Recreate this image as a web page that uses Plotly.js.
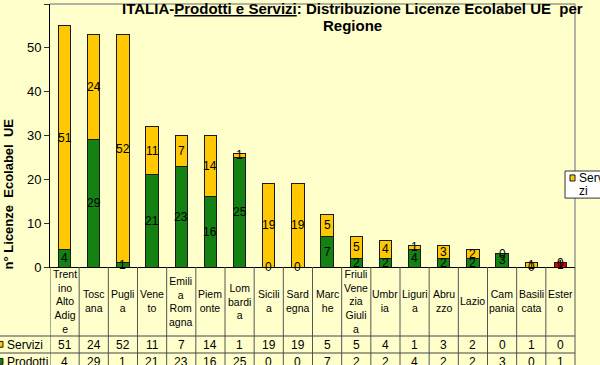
<!DOCTYPE html>
<html>
<head>
<meta charset="utf-8">
<script src="https://cdn.plot.ly/plotly-3.0.1.min.js"></script>
<style>
  html, body { margin: 0; padding: 0; background: #FFFFCC; }
  #chart { width: 600px; height: 365px; }
</style>
</head>
<body>
<div id="chart"></div>
<script>
const regioni = ['Trentino Alto Adige', 'Toscana', 'Puglia', 'Veneto', 'Emilia Romagna', 'Piemonte',
  'Lombardia', 'Sicilia', 'Sardegna', 'Marche', 'Friuli Venezia Giulia', 'Umbria', 'Liguria',
  'Abruzzo', 'Lazio', 'Campania', 'Basilicata', 'Estero'];
// how the names wrap inside the narrow table columns
const etichette = ['Trent<br>ino<br>Alto<br>Adig<br>e', 'Tosc<br>ana', 'Pugli<br>a', 'Vene<br>to',
  'Emili<br>a<br>Rom<br>agna', 'Piem<br>onte', 'Lom<br>bardi<br>a', 'Sicili<br>a', 'Sard<br>egna',
  'Marc<br>he', 'Friuli<br>Vene<br>zia<br>Giuli<br>a', 'Umbr<br>ia', 'Liguri<br>a', 'Abru<br>zzo',
  'Lazio', 'Cam<br>pania', 'Basili<br>cata', 'Ester<br>o'];
const servizi = [51, 24, 52, 11, 7, 14, 1, 19, 19, 5, 5, 4, 1, 3, 2, 0, 1, 0];
const prodotti = [4, 29, 1, 21, 23, 16, 25, 0, 0, 7, 2, 2, 4, 2, 2, 3, 0, 1];

const FONT = 'Arial, "Liberation Sans", sans-serif';
const GIALLO = '#FFC800';
const VERDE = '#138213';
const ROSSO = '#E00000';
const BORDO = '#1a1a1a';

const x = regioni.map((r, i) => i);
const coloriProdotti = regioni.map(r => r === 'Estero' ? ROSSO : VERDE);

const traceProdotti = {
  type: 'bar', name: 'Prodotti', x: x, y: prodotti, width: 0.42,
  marker: {color: coloriProdotti, line: {color: BORDO, width: 1}},
  hovertext: regioni, showlegend: false
};
const traceServizi = {
  type: 'bar', name: 'Servizi', x: x, y: servizi, width: 0.42,
  marker: {color: GIALLO, line: {color: BORDO, width: 1}},
  hovertext: regioni, showlegend: false
};

const annotations = [];
const shapes = [];
const testo = (size, bold) => ({family: FONT, size: size, color: '#000', weight: bold ? 'bold' : 'normal'});

// value labels in the middle of each segment
x.forEach(i => {
  annotations.push({x: i, y: prodotti[i] / 2, xref: 'x', yref: 'y', text: String(prodotti[i]),
    showarrow: false, font: testo(12)});
  annotations.push({x: i, y: prodotti[i] + servizi[i] / 2, xref: 'x', yref: 'y', text: String(servizi[i]),
    showarrow: false, font: testo(12)});
});

// data table under the chart
const rigaNomi = -0.131, rigaServizi = -0.2947, rigaProdotti = -0.36;
x.forEach(i => {
  annotations.push({x: i, y: rigaNomi, xref: 'x', yref: 'paper', text: etichette[i], showarrow: false,
    xanchor: 'center', yanchor: 'middle', font: testo(10.5)});
  annotations.push({x: i, y: rigaServizi, xref: 'x', yref: 'paper', text: String(servizi[i]), showarrow: false,
    xanchor: 'center', yanchor: 'middle', font: testo(12)});
  annotations.push({x: i, y: rigaProdotti, xref: 'x', yref: 'paper', text: String(prodotti[i]), showarrow: false,
    xanchor: 'center', yanchor: 'middle', font: testo(12)});
});
for (let i = 0; i <= regioni.length - 1; i++) {
  shapes.push({type: 'line', xref: 'x', yref: 'paper', x0: i - 0.5, x1: i - 0.5, y0: 0, y1: -0.42,
    line: {color: '#555', width: 1}});
}
shapes.push({type: 'line', xref: 'paper', yref: 'paper', x0: -0.0952, x1: 1, y0: -0.2624, y1: -0.2624,
  line: {color: '#444', width: 1}});
shapes.push({type: 'line', xref: 'paper', yref: 'paper', x0: -0.0952, x1: 1, y0: -0.327, y1: -0.327,
  line: {color: '#444', width: 1}});
// plot frame (top and right, grey)
shapes.push({type: 'line', xref: 'paper', yref: 'paper', x0: 0, x1: 1, y0: 1, y1: 1,
  line: {color: '#999', width: 1.5}});
shapes.push({type: 'line', xref: 'paper', yref: 'paper', x0: 1, x1: 1, y0: 1, y1: 0,
  line: {color: '#999', width: 1.5}});
shapes.push({type: 'line', xref: 'paper', yref: 'paper', x0: 1, x1: 1, y0: 0, y1: -0.42,
  line: {color: '#555', width: 1}});

// row keys of the table
annotations.push({x: -0.0857, y: rigaServizi, xref: 'paper', yref: 'paper', xanchor: 'left', yanchor: 'middle',
  text: 'Servizi', showarrow: false, font: testo(12)});
annotations.push({x: -0.0857, y: rigaProdotti, xref: 'paper', yref: 'paper', xanchor: 'left', yanchor: 'middle',
  text: 'Prodotti', showarrow: false, font: testo(12)});
shapes.push({type: 'rect', xref: 'paper', yref: 'paper', x0: -0.1, x1: -0.0895, y0: -0.283, y1: -0.305,
  fillcolor: GIALLO, line: {color: BORDO, width: 1}});
shapes.push({type: 'rect', xref: 'paper', yref: 'paper', x0: -0.1, x1: -0.0895, y0: -0.348, y1: -0.37,
  fillcolor: VERDE, line: {color: BORDO, width: 1}});

// legend box, cut by the right edge as in the original
shapes.push({type: 'rect', xref: 'paper', yref: 'paper', x0: 0.981, x1: 1.07, y0: 0.262, y1: 0.365,
  fillcolor: '#FFFFFF', line: {color: '#333', width: 1}});
shapes.push({type: 'rect', xref: 'paper', yref: 'paper', x0: 0.9905, x1: 1.0, y0: 0.327, y1: 0.35,
  fillcolor: GIALLO, line: {color: BORDO, width: 1}});
annotations.push({x: 1.0038, y: 0.338, xref: 'paper', yref: 'paper', xanchor: 'left', yanchor: 'middle',
  text: 'Servi', showarrow: false, font: testo(12)});
annotations.push({x: 1.0038, y: 0.289, xref: 'paper', yref: 'paper', xanchor: 'left', yanchor: 'middle',
  text: 'zi', showarrow: false, font: testo(12)});

// y axis title
annotations.push({x: -0.08, y: 0.276, xref: 'paper', yref: 'paper', xanchor: 'center', yanchor: 'middle',
  text: 'n° Licenze  Ecolabel  UE', textangle: -90, showarrow: false, font: testo(13, true)});

// chart title, two lines, sitting over the top edge of the plot like the original
annotations.push({x: 0.577, y: 0.981, xref: 'paper', yref: 'paper', xanchor: 'center', yanchor: 'middle',
  text: 'ITALIA-<u>Prodotti e Servizi</u>: Distribuzione Licenze Ecolabel UE  per',
  showarrow: false, font: testo(15, true)});
annotations.push({x: 0.577, y: 0.92, xref: 'paper', yref: 'paper', xanchor: 'center', yanchor: 'middle',
  text: 'Regione', showarrow: false, font: testo(15, true)});

const layout = {
  width: 600, height: 365,
  margin: {l: 50, r: 25, t: 4, b: 98},
  paper_bgcolor: '#FFFFCC', plot_bgcolor: '#FFFFCC',
  barmode: 'stack',
  showlegend: false,
  xaxis: {
    range: [-0.5, 17.5], showticklabels: false, ticks: '', showgrid: false, zeroline: false,
    showline: true, linecolor: '#000', linewidth: 1, fixedrange: true
  },
  yaxis: {
    range: [0, 60], dtick: 10, ticks: 'outside', ticklen: 5, tickcolor: '#333',
    showgrid: false, zeroline: false, showline: true, linecolor: '#000', linewidth: 1,
    tickfont: {family: FONT, size: 13, color: '#000'}, fixedrange: true
  },
  shapes: shapes,
  annotations: annotations
};

Plotly.newPlot('chart', [traceProdotti, traceServizi], layout, {displayModeBar: false, staticPlot: true});
</script>
</body>
</html>
